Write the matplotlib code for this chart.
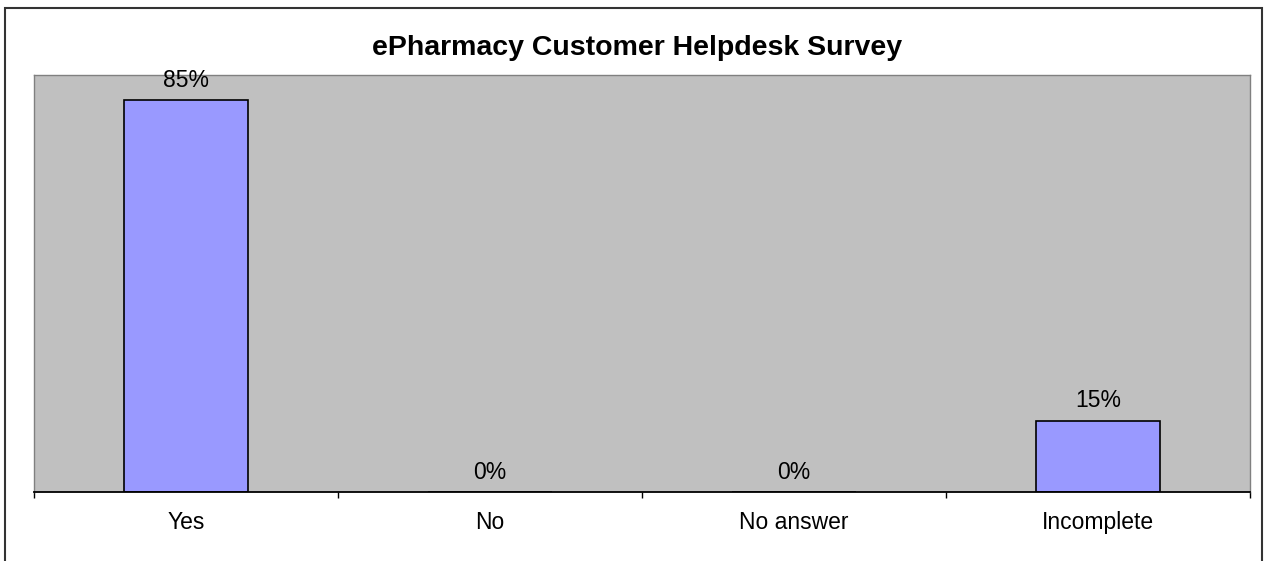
import matplotlib
matplotlib.use("Agg")
import matplotlib.pyplot as plt
from matplotlib.patches import Rectangle
from matplotlib.ticker import FixedLocator, NullFormatter, FixedFormatter

plt.rcParams['font.family'] = ['Liberation Sans', 'DejaVu Sans']

title = "ePharmacy Customer Helpdesk Survey"
categories = ["Yes", "No", "No answer", "Incomplete"]
values = [0.846, 0.0, 0.0, 0.154]
value_labels = ["85%", "0%", "0%", "15%"]

fig = plt.figure(figsize=(12.68, 5.61), dpi=100)
fig.patch.set_facecolor("white")

W, H = 1268, 561
ax = fig.add_axes([34 / W, 1 - 492 / H, (1250 - 34) / W, (492 - 75) / H])
ax.set_facecolor("#C0C0C0")

x = list(range(len(categories)))
bars = ax.bar(x, values, width=0.405, color="#9999FF", edgecolor="black", linewidth=1.2, zorder=3)

for xi, v, lab in zip(x, values, value_labels):
    ax.annotate(lab, (xi, v), xytext=(0, 9.5), textcoords="offset points",
                ha="center", va="baseline", fontsize=16.5, color="black")

ax.set_xlim(-0.5, len(categories) - 0.5)
ax.set_ylim(0, 0.9)

ax.xaxis.set_major_locator(FixedLocator([i - 0.5 for i in range(len(categories) + 1)]))
ax.xaxis.set_major_formatter(NullFormatter())
ax.xaxis.set_minor_locator(FixedLocator(x))
ax.xaxis.set_minor_formatter(FixedFormatter(categories))
ax.tick_params(axis="x", which="major", direction="out", length=4.5, width=1.0, color="black")
ax.tick_params(axis="x", which="minor", length=0, pad=13.5, labelsize=16.5)
ax.set_yticks([])

for s in ["left", "top", "right"]:
    ax.spines[s].set_color("#808080")
    ax.spines[s].set_linewidth(1.0)
ax.spines["bottom"].set_color("black")
ax.spines["bottom"].set_linewidth(1.3)
ax.spines["bottom"].set_zorder(4)

fig.text(637 / W, 1 - 48 / H, title, ha="center", va="center", fontsize=20.5, fontweight="bold")

border = Rectangle((5 / W, -0.05), (1262 - 5) / W, 1 - 8 / H + 0.05, transform=fig.transFigure,
                   fill=False, edgecolor="#333333", linewidth=1.5, clip_on=False)
fig.patches.append(border)

fig.savefig("out.png", dpi=100, facecolor="white")
